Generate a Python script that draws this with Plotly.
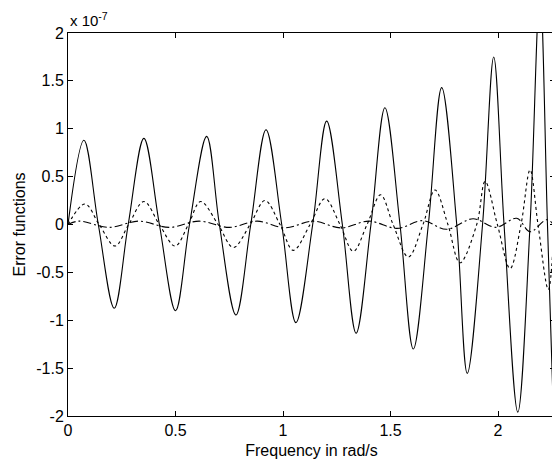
import plotly.graph_objects as go

# values in units of 1e-7
solid_x = [0, 0.074, 0.141, 0.215, 0.280, 0.353, 0.425, 0.500, 0.565, 0.645, 0.704, 0.781,
           0.850, 0.921, 0.994, 1.060, 1.138, 1.203, 1.276, 1.340, 1.409, 1.474, 1.544, 1.606,
           1.676, 1.738, 1.808, 1.857, 1.928, 1.980, 2.028, 2.092, 2.149, 2.195, 2.230, 2.265]
solid_y = [0, 0.88, 0, -0.875, 0, 0.90, 0, -0.90, 0, 0.92, 0, -0.945,
           0, 0.99, 0, -1.025, 0, 1.08, 0, -1.136, 0, 1.22, 0, -1.30,
           0, 1.43, 0, -1.555, 0, 1.75, 0, -1.96, 0, 2.45, 0, -2.5]

dotted_x = [0, 0.079, 0.145, 0.219, 0.282, 0.353, 0.425, 0.498, 0.560, 0.617, 0.698, 0.769,
            0.847, 0.916, 0.986, 1.048, 1.126, 1.195, 1.265, 1.327, 1.391, 1.454, 1.512, 1.583,
            1.651, 1.707, 1.767, 1.823, 1.901, 1.940, 1.997, 2.056, 2.107, 2.149, 2.186, 2.234, 2.265]
dotted_y = [0, 0.214, 0, -0.225, 0, 0.24, 0, -0.225, 0, 0.24, 0, -0.24,
            0, 0.25, 0, -0.27, 0, 0.27, 0, -0.28, 0, 0.31, 0, -0.34,
            0, 0.36, 0, -0.40, 0, 0.45, 0, -0.46, 0, 0.57, 0, -0.68, 0.2]

dashdot_x = [0, 0.05, 0.19, 0.33, 0.47, 0.61, 0.75, 0.88, 1.01, 1.14, 1.27, 1.40,
             1.53, 1.65, 1.76, 1.884, 1.99, 2.087, 2.149, 2.227, 2.265]
dashdot_y = [0, 0.035, -0.03, 0.035, -0.03, 0.035, -0.03, 0.035, -0.035, 0.035, -0.035, 0.035,
             -0.04, 0.04, -0.05, 0.06, -0.03, 0.065, -0.075, 0.05, -0.02]

x_ticks = [0, 0.5, 1, 1.5, 2]
y_ticks = [-2, -1.5, -1, -0.5, 0, 0.5, 1, 1.5, 2]
y_ticktext = ["-2", "-1.5", "-1", "-0.5", "0", "0.5", "1", "1.5", "2"]

FONT = "Liberation Sans, Arial, sans-serif"

fig = go.Figure()
fig.add_trace(go.Scatter(x=solid_x, y=solid_y, mode="lines",
                         line=dict(color="black", width=1.1, shape="spline", smoothing=1.0)))
fig.add_trace(go.Scatter(x=dotted_x, y=dotted_y, mode="lines",
                         line=dict(color="black", width=1.1, dash="3px,3px", shape="spline", smoothing=1.0)))
fig.add_trace(go.Scatter(x=dashdot_x, y=dashdot_y, mode="lines",
                         line=dict(color="black", width=1.1, dash="8px,3px,2px,3px", shape="spline", smoothing=1.0)))

axis_common = dict(showgrid=False, zeroline=False, showline=True, linecolor="black", linewidth=1,
                   mirror="ticks", ticks="inside", ticklen=5, tickcolor="black",
                   tickfont=dict(family=FONT, size=16, color="black"))

fig.update_layout(
    width=552, height=455,
    margin=dict(l=60, r=5, t=25, b=47),
    paper_bgcolor="white", plot_bgcolor="white",
    showlegend=False,
    font=dict(family=FONT, size=16, color="black"),
    xaxis=dict(range=[0, 2.265], tickvals=x_ticks, ticktext=[str(t) for t in x_ticks],
               title=dict(text="Frequency in rad/s", font=dict(family=FONT, size=16), standoff=6),
               **axis_common),
    yaxis=dict(range=[-2, 2], tickvals=y_ticks, ticktext=y_ticktext,
               title=dict(text="Error functions", font=dict(family=FONT, size=16), standoff=6),
               **axis_common),
    annotations=[dict(text="x 10<sup>-7</sup>", xref="paper", yref="paper", x=0, y=1,
                      xanchor="left", yanchor="bottom", yshift=2, showarrow=False,
                      font=dict(family=FONT, size=15, color="black"))],
)

fig.write_html("out.html")
